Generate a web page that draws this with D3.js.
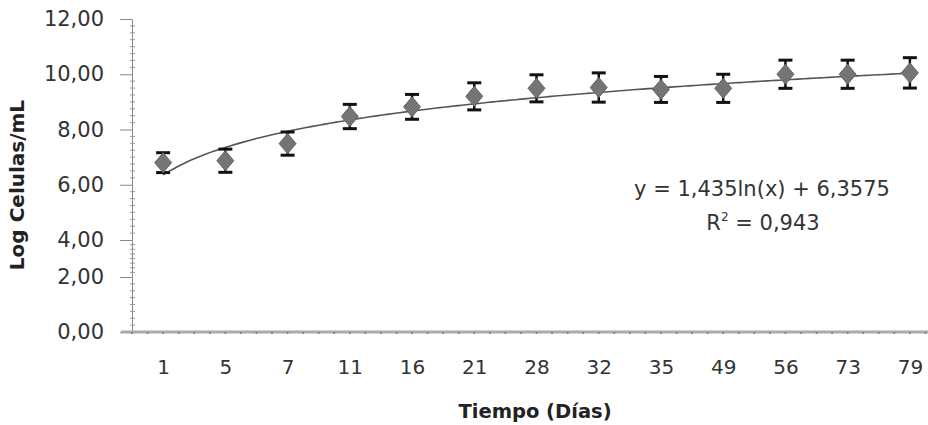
<!DOCTYPE html>
<html>
<head>
<meta charset="utf-8">
<script src="https://cdn.jsdelivr.net/npm/d3@7"></script>
<style>
  body { margin: 0; background: #fff; }
  svg { display: block; }
</style>
</head>
<body>
<div id="wrapper"></div>
<script>
// Datos
const days = ["1", "5", "7", "11", "16", "21", "28", "32", "35", "49", "56", "73", "79"]
const logCells = [6.80, 6.87, 7.49, 8.47, 8.82, 9.20, 9.49, 9.52, 9.45, 9.49, 10.00, 10.00, 10.05]
const errors = [0.36, 0.42, 0.42, 0.44, 0.45, 0.49, 0.49, 0.53, 0.47, 0.51, 0.51, 0.51, 0.55]
const yTicks = [0, 2, 4, 6, 8, 10, 12]
// Línea de tendencia logarítmica (ecuación mostrada en el gráfico)
const trendA = 1.435
const trendB = 6.3575
const equationText = "y = 1,435ln(x) + 6,3575"

const dimensions = { width: 928, height: 425 }

const wrapper = d3.select("#wrapper")
  .append("svg")
  .attr("width", dimensions.width)
  .attr("height", dimensions.height)

// Escalas
const xScale = d3.scalePoint()
  .domain(days)
  .range([132, 941])
  .padding(0.5)

// el eje original está comprimido entre 2 y 4
const yScale = d3.scaleLinear()
  .domain([0, 2, 4, 12])
  .range([332, 277, 240, 19])

const comma = d => d3.format(".2f")(d).replace(".", ",")

// Eje Y
const yAxis = wrapper.append("g")
  .attr("transform", "translate(132,0)")
  .call(d3.axisLeft(yScale).tickValues(yTicks).tickFormat(comma).tickSize(12).tickPadding(16))
yAxis.select(".domain").attr("stroke", "#888").attr("stroke-width", 1)
yAxis.selectAll(".tick line").attr("stroke", "#888")
yAxis.selectAll(".tick text")
  .attr("font-family", "DejaVu Sans")
  .attr("font-size", 21)
  .attr("fill", "#333")

// ticks menores del eje Y
const yMinor = d3.range(0, 12.001, 0.25).filter(v => v % 2 !== 0)
wrapper.append("g").selectAll("line")
  .data(yMinor)
  .join("line")
  .attr("x1", 130).attr("x2", 135)
  .attr("y1", d => yScale(d)).attr("y2", d => yScale(d))
  .attr("stroke", "#999")

// Eje X
const xAxis = wrapper.append("g")
  .attr("transform", "translate(0,332)")
  .call(d3.axisBottom(xScale).tickSize(0).tickPadding(28))
xAxis.select(".domain").remove()
xAxis.selectAll(".tick text")
  .attr("font-family", "DejaVu Sans")
  .attr("font-size", 20)
  .attr("fill", "#333")

wrapper.append("line")
  .attr("x1", 121).attr("x2", 928)
  .attr("y1", 332).attr("y2", 332)
  .attr("stroke", "#aaa")
  .attr("stroke-width", 3)

const step = xScale.step()
const xMinor = d3.range(0, days.length * 4 + 1).map(i => 132 + i * step / 4)
wrapper.append("g").selectAll("circle")
  .data(xMinor)
  .join("circle")
  .attr("cx", d => d).attr("cy", 333)
  .attr("r", 1)
  .attr("fill", "#777")

// Línea de tendencia
const idxScale = d3.scaleLinear()
  .domain([1, days.length])
  .range([xScale(days[0]), xScale(days[days.length - 1])])

const trendLine = d3.line()
  .x(i => idxScale(i))
  .y(i => yScale(trendA * Math.log(i) + trendB))
  .curve(d3.curveBasis)

wrapper.append("path")
  .attr("d", trendLine(d3.range(1, days.length + 0.001, 0.1)))
  .attr("fill", "none")
  .attr("stroke", "#555")
  .attr("stroke-width", 1.6)

// Barras de error
const bars = wrapper.append("g")
  .selectAll("g")
  .data(days.map((d, i) => ({ day: d, v: logCells[i], e: errors[i] })))
  .join("g")
  .attr("stroke", "#111")

bars.append("line")
  .attr("x1", d => xScale(d.day)).attr("x2", d => xScale(d.day))
  .attr("y1", d => yScale(d.v + d.e)).attr("y2", d => yScale(d.v - d.e))
  .attr("stroke-width", 2.5)
bars.append("line")
  .attr("x1", d => xScale(d.day) - 7).attr("x2", d => xScale(d.day) + 7)
  .attr("y1", d => yScale(d.v + d.e)).attr("y2", d => yScale(d.v + d.e))
  .attr("stroke-width", 3)
bars.append("line")
  .attr("x1", d => xScale(d.day) - 7).attr("x2", d => xScale(d.day) + 7)
  .attr("y1", d => yScale(d.v - d.e)).attr("y2", d => yScale(d.v - d.e))
  .attr("stroke-width", 3)

// Rombos
const defs = wrapper.append("defs")
const pat = defs.append("pattern")
  .attr("id", "dots")
  .attr("width", 3).attr("height", 3)
  .attr("patternUnits", "userSpaceOnUse")
pat.append("rect").attr("width", 3).attr("height", 3).attr("fill", "#8a8a8a")
pat.append("rect").attr("width", 1.5).attr("height", 1.5).attr("fill", "#5e5e5e")
pat.append("rect").attr("x", 1.5).attr("y", 1.5).attr("width", 1.5).attr("height", 1.5).attr("fill", "#5e5e5e")

wrapper.append("g").selectAll("path")
  .data(days.map((d, i) => ({ day: d, v: logCells[i] })))
  .join("path")
  .attr("d", "M0,-10L8.5,0L0,10L-8.5,0Z")
  .attr("transform", d => `translate(${xScale(d.day)},${yScale(d.v)})`)
  .attr("fill", "url(#dots)")
  .attr("stroke", "#666")
  .attr("stroke-width", 1)

// Ecuación
wrapper.append("text")
  .attr("x", 762).attr("y", 196)
  .attr("text-anchor", "middle")
  .attr("font-family", "DejaVu Sans")
  .attr("font-size", 21)
  .attr("fill", "#333")
  .text(equationText)

const r2 = wrapper.append("text")
  .attr("x", 763).attr("y", 230)
  .attr("text-anchor", "middle")
  .attr("font-family", "DejaVu Sans")
  .attr("font-size", 21)
  .attr("fill", "#333")
r2.append("tspan").text("R")
r2.append("tspan").attr("font-size", 12).attr("dy", -9).text("2")
r2.append("tspan").attr("dy", 9).text(" = 0,943")

// Títulos de ejes
wrapper.append("text")
  .attr("x", 535).attr("y", 418)
  .attr("text-anchor", "middle")
  .attr("font-family", "DejaVu Sans")
  .attr("font-weight", "bold")
  .attr("font-size", 19.5)
  .attr("fill", "#222")
  .text("Tiempo (Días)")

wrapper.append("text")
  .attr("transform", "translate(24,185) rotate(-90)")
  .attr("text-anchor", "middle")
  .attr("font-family", "DejaVu Sans")
  .attr("font-weight", "bold")
  .attr("font-size", 20)
  .attr("fill", "#222")
  .text("Log Celulas/mL")
</script>
</body>
</html>
